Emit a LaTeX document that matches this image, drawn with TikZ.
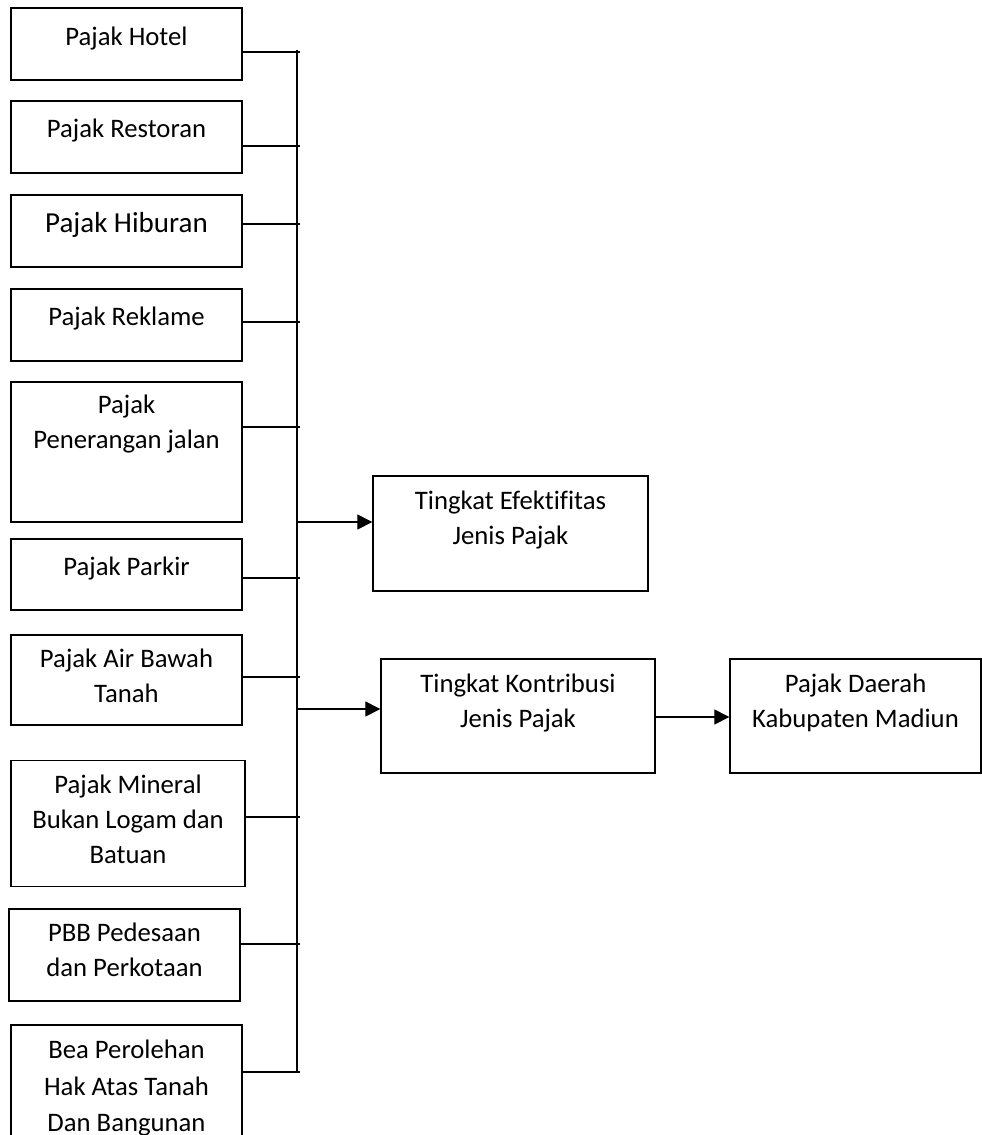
\documentclass[tikz,border=0pt]{standalone}
\usepackage{fontspec}
\setmainfont{Carlito}[Ligatures={NoCommon}]
\usetikzlibrary{arrows.meta}
\begin{document}
\begin{tikzpicture}[x=1pt,y=-1pt,
  box/.style={draw, line width=1.3pt, inner sep=0pt},
  lbl/.style={anchor=north, inner sep=0pt, align=center,
    font=\fontsize{26.7}{35}\selectfont,
    execute at begin node={\rule{0pt}{22pt}}},
  big/.style={font=\fontsize{29}{35}\selectfont},
  wire/.style={line width=1.1pt},
  arr/.style={wire, -{Triangle[length=15pt,width=15pt]}}]
\clip (0,0) rectangle (982,1135);
% left boxes
\node[box, minimum width=231pt, minimum height=72pt]  (b1)  at (126.5,44) {};
\node[box, minimum width=231pt, minimum height=72pt]  (b2)  at (126.5,137) {};
\node[box, minimum width=231pt, minimum height=72pt]  (b3)  at (126.5,231) {};
\node[box, minimum width=231pt, minimum height=72pt]  (b4)  at (126.5,325) {};
\node[box, minimum width=231pt, minimum height=140pt] (b5)  at (126.5,452) {};
\node[box, minimum width=231pt, minimum height=71pt]  (b6)  at (126.5,574.5) {};
\node[box, minimum width=231pt, minimum height=90pt]  (b7)  at (126.5,680) {};
\node[box, minimum width=234pt, minimum height=126pt] (b8)  at (128,823.7) {};
\node[box, minimum width=231pt, minimum height=92pt]  (b9)  at (124.5,955) {};
\node[box, minimum width=231pt, minimum height=140pt] (b10) at (126.5,1095) {};
% right boxes
\node[box, minimum width=275pt, minimum height=115pt] (e) at (510.5,533.5) {};
\node[box, minimum width=274pt, minimum height=114pt] (k) at (518,716) {};
\node[box, minimum width=251pt, minimum height=114pt] (d) at (855.5,716) {};
% labels
\node[lbl] (l1) at (126.5,23) {Pajak Hotel};
\node[lbl] (l2) at (126.5,115) {Pajak Restoran};
\node[lbl,big] (l3) at (126.5,210) {Pajak Hiburan};
\node[lbl] (l4) at (126.5,303) {Pajak Reklame};
\node[lbl] (l5) at (126.5,395) {Pajak\\Penerangan jalan};
\node[lbl] (l6) at (126.5,553) {Pajak Parkir};
\node[lbl] (l7) at (126.5,648.7) {Pajak Air Bawah\\Tanah};
\node[lbl] (l8) at (128,774.7) {Pajak Mineral\\Bukan Logam dan\\Batuan};
\node[lbl] (l9) at (124.5,923) {PBB Pedesaan\\dan Perkotaan};
\node[lbl, font=\fontsize{26.7}{36.5}\selectfont] (l10) at (126.5,1040) {Bea Perolehan\\Hak Atas Tanah\\Dan Bangunan};
\node[lbl] (le) at (510.5,491) {Tingkat Efektifitas\\Jenis Pajak};
\node[lbl] (lk) at (518,674) {Tingkat Kontribusi\\Jenis Pajak};
\node[lbl] (ld) at (855.5,674) {Pajak Daerah\\Kabupaten Madiun};
% bus
\coordinate (busTop) at (297,50);
\coordinate (busBot) at (297,1072);
\draw[wire] (busTop) -- (busBot);
\coordinate (t1) at (300,52);
\coordinate (t2) at (300,146);
\coordinate (t3) at (300,224);
\coordinate (t4) at (300,322);
\coordinate (t5) at (300,427);
\coordinate (t6) at (300,578);
\coordinate (t7) at (300,677);
\coordinate (t8) at (300,817);
\coordinate (t9) at (300,944);
\coordinate (t10) at (300,1072);
\foreach \i in {1,...,10} {\draw[wire] (b\i.east |- t\i) -- (t\i);}
% arrows
\coordinate (a1) at (297,522);
\coordinate (a2) at (297,709);
\coordinate (a3) at (655,717);
\draw[arr] (a1) -- (a1 -| e.west);
\draw[arr] (a2) -- (a2 -| k.west);
\draw[arr] (a3 -| k.east) -- (a3 -| d.west);
\end{tikzpicture}
\end{document}
